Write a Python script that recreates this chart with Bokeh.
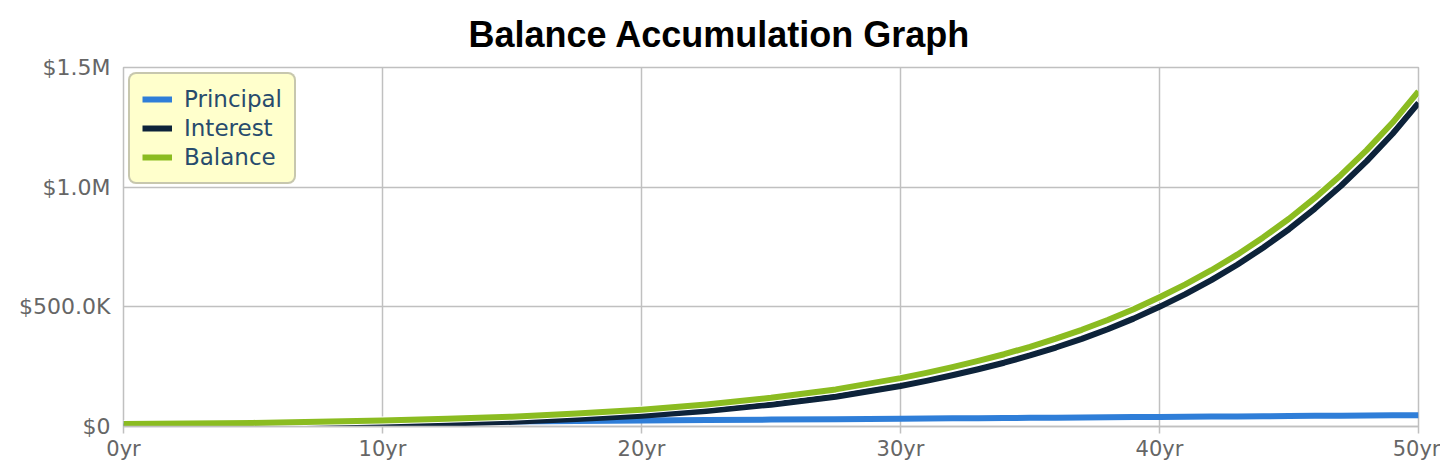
from bokeh.plotting import figure
from bokeh.models import ColumnDataSource, FixedTicker, Range1d
from bokeh.embed import file_html
from bokeh.resources import INLINE

# values (dollars)
years = [0, 2.5, 5, 7.5, 10, 12.5, 15, 17.5, 20, 22.5, 25, 27.5,
         30, 31, 32, 33, 34, 35, 36, 37, 38, 39, 40,
         41, 42, 43, 44, 45, 46, 47, 48, 49, 50]
principal = [10000, 11900, 13800, 15600, 17500, 19400, 21300, 23100, 25000, 26900, 28800, 30600,
             32500, 33250, 34000, 34750, 35500, 36250, 37000, 37750, 38500, 39250, 40000,
             40750, 41500, 42250, 43000, 43750, 44500, 45250, 46000, 46750, 47500]
interest = [0, 600, 1200, 3900, 7500, 12600, 19700, 30900, 45000, 65100, 91200, 124400,
            169500, 190800, 214000, 239300, 266500, 296800, 330000, 366300, 406500, 450800, 500000,
            553300, 611500, 675800, 747000, 824300, 910500, 1004800, 1109000, 1223300, 1352500]
balance = [10000, 12500, 15000, 19500, 25000, 32000, 41000, 54000, 70000, 92000, 120000, 155000,
           202000, 224000, 248000, 274000, 302000, 333000, 367000, 404000, 445000, 490000, 540000,
           594000, 653000, 718000, 790000, 868000, 955000, 1050000, 1155000, 1270000, 1400000]

x_ticks = [0, 10, 20, 30, 40, 50]
x_labels = ["0yr", "10yr", "20yr", "30yr", "40yr", "50yr"]
y_ticks = [0, 500000, 1000000, 1500000]
y_labels = ["$0", "$500.0K", "$1.0M", "$1.5M"]

source = ColumnDataSource(dict(years=years, principal=principal,
                               interest=interest, balance=balance))

p = figure(width=1440, height=466, output_backend="svg", toolbar_location=None,
           x_range=Range1d(0, 50), y_range=Range1d(0, 1500000),
           min_border_left=123, min_border_right=22, min_border_top=67, min_border_bottom=40,
           title="Balance Accumulation Graph")

p.title.text_font = "Liberation Sans"
p.title.text_font_style = "bold"
p.title.text_font_size = "36px"
p.title.text_color = "#000000"
p.title.align = "left"
p.title.offset = 345
p.title.vertical_align = "top"
p.title.standoff = 22

p.outline_line_color = "#c0c0c0"
p.outline_line_width = 1.5
p.background_fill_color = "white"
p.border_fill_color = "white"

# lines, balance on top
p.line("years", "principal", source=source, line_color="#2f7ed8", line_width=6,
       line_join="round", legend_label="Principal")
p.line("years", "interest", source=source, line_color="#0d233a", line_width=6,
       line_join="round", legend_label="Interest")
p.line("years", "balance", source=source, line_color="white", line_width=8,
       line_join="round")
p.line("years", "balance", source=source, line_color="#8bbc21", line_width=6,
       line_join="round", legend_label="Balance")

# axes
p.xaxis.ticker = FixedTicker(ticks=x_ticks)
p.xaxis.major_label_overrides = dict(zip(x_ticks, x_labels))
p.yaxis.ticker = FixedTicker(ticks=y_ticks)
p.yaxis.major_label_overrides = dict(zip(y_ticks, y_labels))
p.xaxis.minor_tick_line_color = None
p.yaxis.minor_tick_line_color = None
p.yaxis.major_tick_line_color = None
p.yaxis.major_tick_out = 0
p.yaxis.major_tick_in = 0
p.yaxis.axis_line_color = None
p.xaxis.axis_line_color = "#c0c0c0"
p.xaxis.axis_line_width = 1.5
p.xaxis.major_tick_line_color = "#c0c0c0"
p.xaxis.major_tick_line_width = 1.5
p.xaxis.major_tick_out = 7
p.xaxis.major_tick_in = 0
p.xaxis.major_label_standoff = 3
p.yaxis.major_label_standoff = 13
for ax in (p.xaxis, p.yaxis):
    ax.major_label_text_font = "DejaVu Sans"
    ax.major_label_text_color = "#666666"
p.xaxis.major_label_text_font_size = "21px"
p.yaxis.major_label_text_font_size = "22px"

p.xgrid.ticker = FixedTicker(ticks=x_ticks)
p.ygrid.ticker = FixedTicker(ticks=y_ticks)
p.grid.grid_line_color = "#c0c0c0"
p.grid.grid_line_width = 1.5

# legend
leg = p.legend[0]
leg.location = (5, 242)
leg.background_fill_color = "#ffffcc"
leg.background_fill_alpha = 1
leg.border_line_color = "#909090"
leg.border_line_width = 2
if "border_radius" in leg.properties():
    leg.border_radius = 8
leg.label_text_font = "DejaVu Sans"
leg.label_text_font_size = "23px"
leg.label_text_color = "#274b6d"
leg.glyph_width = 30
leg.glyph_height = 20
leg.label_standoff = 12
leg.label_height = 20
leg.spacing = 3
leg.padding = 12
leg.margin = 0

open("out.html", "w").write(file_html(p, INLINE))
